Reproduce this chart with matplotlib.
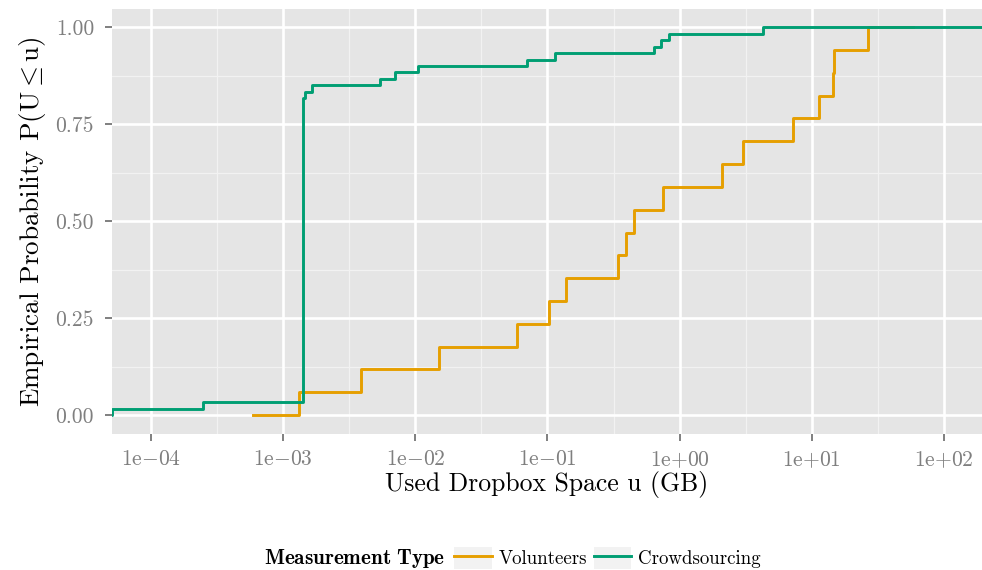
import numpy as np
import matplotlib
matplotlib.use('Agg')
from matplotlib import pyplot as plt
from matplotlib.patches import Rectangle
from matplotlib.lines import Line2D

plt.rcParams['font.family'] = ['cmr10', 'DejaVu Serif']
plt.rcParams['mathtext.fontset'] = 'cm'
plt.rcParams['axes.unicode_minus'] = False

# Volunteers: jump positions (GB), one user each
vol_start = 5.93e-4
vol_x = [1.32e-3, 3.90e-3, 1.52e-2, 5.93e-2, 0.102, 0.137, 0.339, 0.396, 0.449,
         0.743, 2.08, 3.00, 7.18, 11.3, 14.4, 14.7, 26.5]
vol_n = [1] * 17
vol_end = 58.2

# Crowdsourcing: jump positions (GB) and number of users at each
crowd_start = 5.0e-5
crowd_x = [5.1e-5, 2.48e-4, 1.42e-3, 1.47e-3, 1.66e-3, 5.43e-3, 7.05e-3, 1.05e-2,
           7.05e-2, 0.115, 0.635, 0.718, 0.826, 4.26]
crowd_n = [1, 1, 47, 1, 1, 1, 1, 1, 1, 1, 1, 1, 1, 1]
crowd_end = 300.0

labels = ['Volunteers', 'Crowdsourcing']
colors = ['#E69F00', '#009E73']

x_ticks = [1e-4, 1e-3, 1e-2, 1e-1, 1e0, 1e1, 1e2]
x_ticklabels = [r'$\mathrm{1e{-}04}$', r'$\mathrm{1e{-}03}$', r'$\mathrm{1e{-}02}$',
                r'$\mathrm{1e{-}01}$', r'$\mathrm{1e{+}00}$', r'$\mathrm{1e{+}01}$',
                r'$\mathrm{1e{+}02}$']
y_ticks = [0, 0.25, 0.5, 0.75, 1.0]
y_ticklabels = ['0.00', '0.25', '0.50', '0.75', '1.00']


def ecdf_line(start, xs, ns, end):
    ns = np.asarray(ns, dtype=float)
    cum = np.cumsum(ns) / ns.sum()
    x = np.r_[start, xs, end]
    y = np.r_[0.0, cum, cum[-1]]
    return x, y


W, H = 982, 570
fig = plt.figure(figsize=(W / 100, H / 100), dpi=100)
ax = fig.add_axes([112 / W, 1 - 434 / H, (982 - 112) / W, (434 - 9) / H])
ax.set_facecolor('#E5E5E5')

ax.set_xscale('log')
ax.set_xlim(10 ** -4.295, 10 ** 2.288)
ax.set_ylim(-0.049, 1.047)

# grid (ggplot style): minor at half decades / eighths
for t in x_ticks:
    ax.axvline(t, color='white', lw=1.9, zorder=1)
for e in np.arange(-4.5, 2.6, 1.0):
    ax.axvline(10 ** e, color='#F2F2F2', lw=0.9, zorder=0.9)
for t in y_ticks:
    ax.axhline(t, color='white', lw=1.9, zorder=1)
for t in [0.125, 0.375, 0.625, 0.875]:
    ax.axhline(t, color='#F2F2F2', lw=0.9, zorder=0.9)

vx, vy = ecdf_line(vol_start, vol_x, vol_n, vol_end)
cx, cy = ecdf_line(crowd_start, crowd_x, crowd_n, crowd_end)
ax.step(vx, vy, where='post', color=colors[0], lw=2.1, zorder=3)
ax.step(cx, cy, where='post', color=colors[1], lw=2.1, zorder=4)

ax.set_xticks(x_ticks)
ax.set_xticklabels(x_ticklabels)
ax.xaxis.set_minor_locator(matplotlib.ticker.NullLocator())
ax.set_yticks(y_ticks)
ax.set_yticklabels(y_ticklabels)
ax.tick_params(colors='#7F7F7F', labelcolor='#7F7F7F', length=5, width=1.4,
               labelsize=15.5)
ax.tick_params(axis='x', pad=6)
ax.tick_params(axis='y', pad=8)
for s in ax.spines.values():
    s.set_visible(False)

ax.set_xlabel('Used Dropbox Space u (GB)', fontsize=18.5, color='black', labelpad=1)
ax.set_ylabel(r'Empirical Probability $\mathrm{P(U \leq u)}$', fontsize=19.5,
              color='black', labelpad=5)

# legend at the bottom, title on the left
fig.text(264 / W, 1 - 558 / H, r'$\mathbf{Measurement\ Type}$', fontsize=15.2,
         ha='left', va='center')
handles = []
for c in colors:
    bg = Rectangle((0, 0), 1, 1, facecolor='#F2F2F2', edgecolor='none')
    ln = Line2D([], [], color=c, lw=2.1)
    handles.append((bg, ln))
fig.legend(handles, labels, loc='center left', bbox_to_anchor=(454 / W, 1 - 558 / H),
           ncol=2, frameon=False, fontsize=13.6, handlelength=2.0, handleheight=1.35,
           handletextpad=0.35, columnspacing=0.35, borderpad=0, borderaxespad=0)

fig.savefig('out.png', dpi=100)
